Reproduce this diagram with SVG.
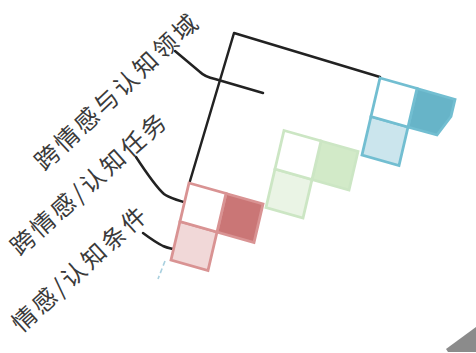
<svg xmlns="http://www.w3.org/2000/svg" width="476" height="353" viewBox="0 0 476 353">
<style>
.lbl{font-family:"Noto Sans CJK SC","Noto Sans",sans-serif;font-size:24px;fill:#3a3a3a;letter-spacing:3px;text-anchor:middle;dominant-baseline:central}
.ln{fill:none;stroke:#222;stroke-width:2.5;stroke-linecap:round;stroke-linejoin:round}
.cell{stroke-width:2.8;stroke-linejoin:miter}
.red{stroke:#d99393}
.grn{stroke:#cce6c4}
.blu{stroke:#72bed1}
</style>
<rect width="476" height="353" fill="#ffffff"/>
<g id="connectors">
<path class="ln" d="M190,181 L234,33 L380,77"/>
<path class="ln" d="M175,51 L200,72 Q205,77 215,79 L263,93"/>
<path class="ln" d="M136,157 Q155,186 164,194 Q170,199 202,207"/>
<path class="ln" d="M143,233 Q155,242 163,246 Q170,249 180,250"/>
<path d="M165,261 L158,279" fill="none" stroke="#a9d0df" stroke-width="1.6" stroke-dasharray="5 3"/>
</g>
<g id="group-red">
<polygon class="cell red" points="226,193.5 263,204 254,242.5 217,232" fill="#ca7676"/>
<polygon class="cell red" points="180,221.5 217,232 208,270.5 171,260" fill="#f1d8d8"/>
<polygon class="cell red" points="189,183 226,193.5 217,232 180,221.5" fill="#ffffff"/>
</g>
<g id="group-green">
<polygon class="cell grn" points="321,141 358,151.5 349,190 312,179.5" fill="#d2eac8"/>
<polygon class="cell grn" points="275,169 312,179.5 303,218 266,207.5" fill="#eaf4e5"/>
<polygon class="cell grn" points="284,130.5 321,141 312,179.5 275,169" fill="#ffffff"/>
</g>
<g id="group-blue">
<polygon class="cell blu" points="417,88.5 455,99.5 451,116.5 437,135 408,127" fill="#67b4c8"/>
<polygon class="cell blu" points="371,116.5 408,127 399,165.5 362,155" fill="#cbe5ed"/>
<polygon class="cell blu" points="380,78 417,88.5 408,127 371,116.5" fill="#ffffff"/>
</g>
<g id="label-domain">
<text class="lbl" transform="translate(116,90) rotate(-43.3)">跨情感与认知领域</text>
</g>
<g id="label-task">
<text class="lbl" transform="translate(88,182) rotate(-41.6)">跨情感/认知任务</text>
</g>
<g id="label-condition">
<text class="lbl" transform="translate(79,267) rotate(-42.3)">情感/认知条件</text>
</g>
<polygon points="446,349 476,327 476,352 448,352" fill="#5a5a5a" opacity="0.7"/>
</svg>
